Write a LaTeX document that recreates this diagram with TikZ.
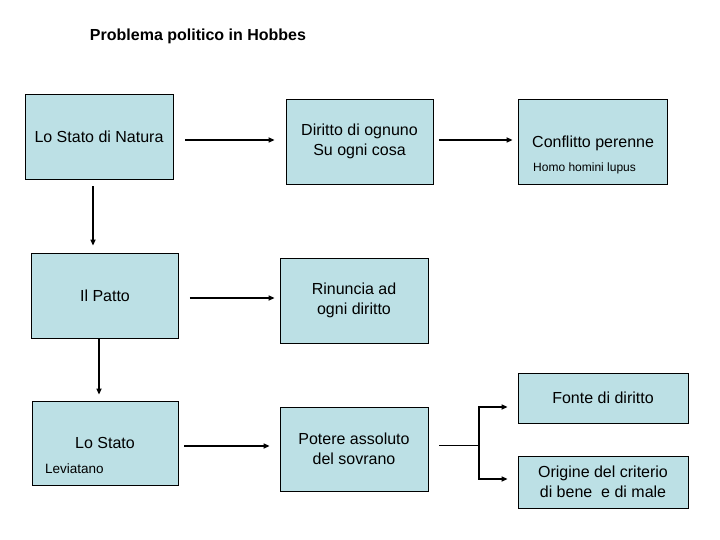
\documentclass[tikz,border=0pt]{standalone}
\usepackage{fontspec}
\setmainfont{Liberation Sans}
\usetikzlibrary{arrows.meta}
\definecolor{boxfill}{HTML}{BCE0E5}
\tikzset{
  box/.style={draw=black, line width=0.8pt, fill=boxfill, inner sep=0pt, align=center,
    font=\fontsize{16}{20}\selectfont},
  txt/.style={inner sep=0pt, font=\fontsize{16}{20}\selectfont},
  smalltxt/.style={inner sep=0pt, font=\fontsize{12}{15}\selectfont},
  arr/.style={line width=1.8pt, -{Triangle[length=6pt,width=5pt]}},
  thinline/.style={line width=1pt},
}
\begin{document}
\begin{tikzpicture}[x=1pt,y=-1pt]
\useasboundingbox[fill=white] (0,0) rectangle (720,540);
\node[inner sep=0pt, font=\bfseries\fontsize{16}{20}\selectfont] (title) at (198,36) {Problema politico in Hobbes};

\node[box, minimum width=148pt, minimum height=85pt] (B1) at (99,136.5) {Lo Stato di Natura};
\node[box, minimum width=147pt, minimum height=85pt] (B2) at (359.5,141.5) {Diritto di ognuno\\Su ogni cosa};
\node[box, minimum width=149pt, minimum height=85pt] (B3) at (592.5,141.5) {};
\node[txt, anchor=west] (B3a) at (532,143) {Conflitto perenne};
\node[smalltxt, anchor=west] (B3b) at (533,168) {Homo homini lupus};

\node[box, minimum width=147pt, minimum height=85pt] (B4) at (105,295.5) {Il Patto};
\node[box, minimum width=148pt, minimum height=85pt] (B5) at (354,300.5) {Rinuncia ad\\ogni diritto};

\node[box, minimum width=146pt, minimum height=84pt] (B6) at (105,443) {};
\node[txt] (B6a) at (105,443) {Lo Stato};
\node[smalltxt, anchor=west, font=\fontsize{13.5}{15}\selectfont] (B6b) at (45,469) {Leviatano};
\node[box, minimum width=148pt, minimum height=84pt] (B7) at (354,449) {Potere assoluto\\del sovrano};

\node[box, minimum width=170pt, minimum height=50pt] (B8) at (603,398) {Fonte di diritto};
\node[box, minimum width=170pt, minimum height=52pt] (B9) at (603,482) {Origine del criterio\\di bene\ \ e di male};

% connectors
\draw[arr, shorten <=12pt, shorten >=11pt] ([yshift=-3.5pt]B1.east) -- ([yshift=1.5pt]B2.west);
\draw[arr, shorten <=6pt, shorten >=5pt] ([yshift=1.5pt]B2.east) -- ([yshift=1.5pt]B3.west);
\draw[arr, shorten <=7pt, shorten >=7pt] ([xshift=-6pt]B1.south) -- ([xshift=-12pt]B4.north);
\draw[arr, shorten <=11pt, shorten >=5pt] ([yshift=-2.5pt]B4.east) -- ([yshift=2.5pt]B5.west);
\draw[arr, shorten >=6pt] ([xshift=-6pt]B4.south) -- ([xshift=-6pt]B6.north);
\draw[arr, shorten <=6pt, shorten >=10pt] ([yshift=-3pt]B6.east) -- ([yshift=3pt]B7.west);

\coordinate (fork) at (479,445);
\draw[thinline, shorten <=11pt] ([yshift=4pt]B7.east) -- (fork);
\draw[arr, line width=1.5pt, shorten >=10pt] (fork) |- ([yshift=-9pt]B8.west);
\draw[arr, line width=1.5pt, shorten >=10pt] (fork) |- ([yshift=3pt]B9.west);
\end{tikzpicture}
\end{document}
